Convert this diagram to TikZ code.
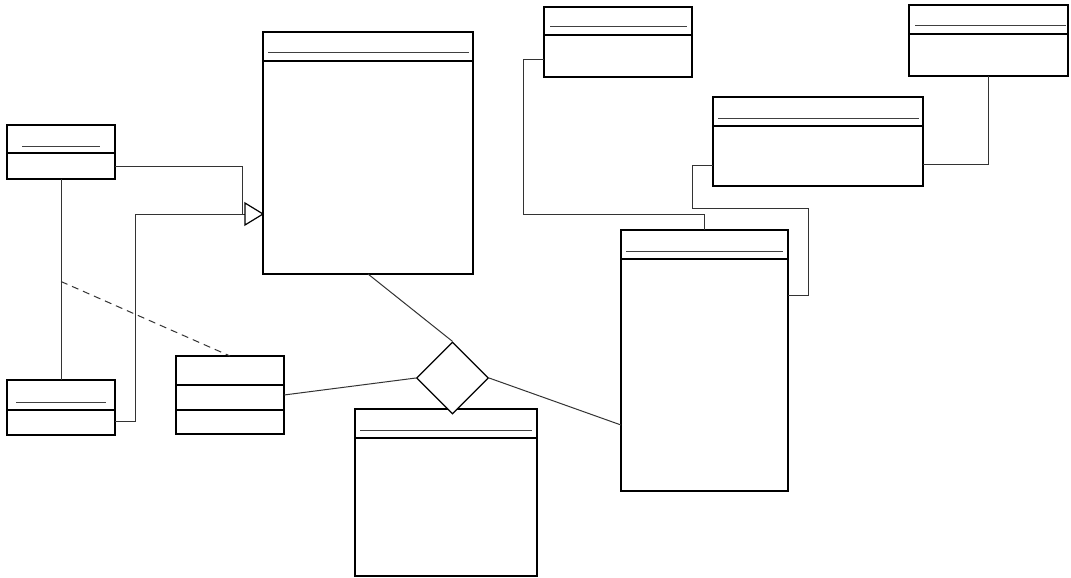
\documentclass[tikz,border=0pt]{standalone}
\usetikzlibrary{shapes.geometric,calc}
\begin{document}
\begin{tikzpicture}[x=1pt,y=-1pt,
  cls/.style={draw=black,line width=1.4pt,rectangle,inner sep=0pt,outer sep=0pt,anchor=north west,fill=white},
  divline/.style={line width=1.4pt,black},
  ulline/.style={line width=1pt,black!75},
  conn/.style={line width=1pt,black!80},
  dconn/.style={conn,dashed,dash pattern=on 7pt off 5pt}]
\useasboundingbox[fill=white] (0,0) rectangle (1071,578);

% classes
\node[cls,minimum width=108pt,minimum height=54pt] (A) at (7,125) {};
\node[cls,minimum width=108pt,minimum height=55pt] (B) at (7,380) {};
\node[cls,minimum width=108pt,minimum height=78pt] (C) at (176,356) {};
\node[cls,minimum width=210pt,minimum height=242pt] (D) at (263,32) {};
\node[cls,minimum width=182pt,minimum height=167pt] (F) at (355,409) {};
\node[cls,minimum width=148pt,minimum height=70pt] (G) at (544,7) {};
\node[cls,minimum width=210pt,minimum height=89pt] (H) at (713,97) {};
\node[cls,minimum width=159pt,minimum height=71pt] (I) at (909,5) {};
\node[cls,minimum width=167pt,minimum height=261pt] (J) at (621,230) {};

% compartments
\draw[divline] ([yshift=-28pt]A.north west) -- ([yshift=-28pt]A.north east);
\draw[ulline] ([xshift=15pt,yshift=-21pt]A.north west) -- ([xshift=-15pt,yshift=-21pt]A.north east);
\draw[divline] ([yshift=-30pt]B.north west) -- ([yshift=-30pt]B.north east);
\draw[ulline] ([xshift=9pt,yshift=-22pt]B.north west) -- ([xshift=-9pt,yshift=-22pt]B.north east);
\draw[divline] ([yshift=-29pt]C.north west) -- ([yshift=-29pt]C.north east);
\draw[divline] ([yshift=-54pt]C.north west) -- ([yshift=-54pt]C.north east);
\draw[divline] ([yshift=-29pt]D.north west) -- ([yshift=-29pt]D.north east);
\draw[ulline] ([xshift=5pt,yshift=-21pt]D.north west) -- ([xshift=-4pt,yshift=-21pt]D.north east);
\draw[divline] ([yshift=-29pt]F.north west) -- ([yshift=-29pt]F.north east);
\draw[ulline] ([xshift=5pt,yshift=-21pt]F.north west) -- ([xshift=-5pt,yshift=-21pt]F.north east);
\draw[divline] ([yshift=-28pt]G.north west) -- ([yshift=-28pt]G.north east);
\draw[ulline] ([xshift=6pt,yshift=-20pt]G.north west) -- ([xshift=-5pt,yshift=-20pt]G.north east);
\draw[divline] ([yshift=-29pt]H.north west) -- ([yshift=-29pt]H.north east);
\draw[ulline] ([xshift=5pt,yshift=-21pt]H.north west) -- ([xshift=-4pt,yshift=-21pt]H.north east);
\draw[divline] ([yshift=-29pt]I.north west) -- ([yshift=-29pt]I.north east);
\draw[ulline] ([xshift=6pt,yshift=-21pt]I.north west) -- ([xshift=-2pt,yshift=-21pt]I.north east);
\draw[divline] ([yshift=-29pt]J.north west) -- ([yshift=-29pt]J.north east);
\draw[ulline] ([xshift=5pt,yshift=-21pt]J.north west) -- ([xshift=-5pt,yshift=-21pt]J.north east);

% helper coordinates
\coordinate (g1) at (242,214);
\coordinate (g2) at (135,214);
\coordinate (tip) at (D.west |- g1);
\coordinate (base) at ([xshift=-18pt]tip);
\coordinate (c1) at (523,214);
\coordinate (c3) at (692,208);
\coordinate (c4) at (808,295);
\coordinate (dm) at ($(A.south)!0.51!(B.north)$);

% diamond
\node[draw=black,line width=1.2pt,diamond,fill=white,minimum width=72pt,minimum height=72pt,inner sep=0pt] (E) at (452.5,378) {};

% connectors
\draw[conn] ([yshift=-41pt]A.north east) -| (g1) -- (base);
\draw[conn] ([yshift=-41pt]B.north east) -| (g2) -- (base);
\draw[conn] (A.south) -- (B.north);
\draw[dconn] (dm) -- (C.north);
\draw[conn] ([yshift=-39pt]C.north east) -- (E.west);
\draw[conn] (D.south) -- (E.north);
\draw[conn] (E.east) -- ([yshift=-195pt]J.north west);
\draw[conn] ([yshift=-53pt]G.north west) -| (c1) -| (J.north);
\draw[conn] ([yshift=-68pt]H.north west) -| (c3) -| (c4) -- (J.east |- c4);
\draw[conn] ([yshift=-67pt]H.north east) -| (I.south);

% generalization triangle
\draw[line width=1.2pt,fill=white] (tip) -- ([yshift=11pt]base) -- ([yshift=-11pt]base) -- cycle;
\end{tikzpicture}
\end{document}
